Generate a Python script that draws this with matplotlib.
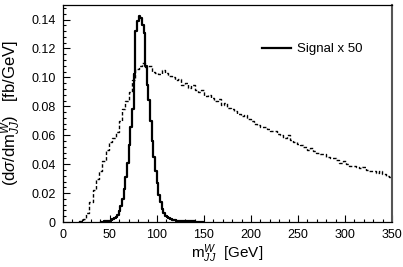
import numpy as np
import matplotlib
matplotlib.use("Agg")
import matplotlib.pyplot as plt
from matplotlib.ticker import MultipleLocator

plt.rcParams['font.family'] = ['Liberation Sans', 'DejaVu Sans']
plt.rcParams['mathtext.fontset'] = 'custom'
plt.rcParams['mathtext.rm'] = 'Liberation Sans'
plt.rcParams['mathtext.it'] = 'Liberation Sans:italic'

# signal (x 50), 1.75 GeV bins starting at 40.25 GeV
sig_start = 40.25
sig_width = 1.75
signal = [0.0002, 0.0003, 0.0004, 0.0006, 0.0008, 0.001, 0.0015, 0.002,
          0.0028, 0.0035, 0.005, 0.0075, 0.011, 0.016, 0.023, 0.031,
          0.041, 0.053, 0.066, 0.078, 0.102, 0.132, 0.139, 0.1425,
          0.141, 0.1365, 0.131, 0.108, 0.095, 0.0845, 0.07, 0.056,
          0.045, 0.035, 0.027, 0.019, 0.0135, 0.009, 0.0063, 0.0045,
          0.0032, 0.0025, 0.002, 0.0017, 0.0014, 0.0012, 0.001, 0.001,
          0.0009, 0.0008, 0.0008, 0.0007, 0.0006, 0.0006, 0.0005, 0.0004,
          0.0004, 0.0003, 0.0002, 0.0002, 0.0001, 0.0]

# background, 3.5 GeV bins starting at 17.5 GeV
bkg_start = 17.5
bkg_width = 3.5
background = [0.0005, 0.002, 0.006, 0.014, 0.022, 0.03, 0.035, 0.042,
              0.05, 0.055, 0.058, 0.062, 0.07, 0.078, 0.084, 0.09,
              0.098, 0.106, 0.108, 0.110, 0.107, 0.108, 0.104, 0.103,
              0.102, 0.105, 0.103, 0.101, 0.100, 0.098, 0.099, 0.095,
              0.096, 0.093, 0.095, 0.091, 0.090, 0.091, 0.087, 0.088,
              0.086, 0.084, 0.085, 0.081, 0.082, 0.079, 0.078, 0.077,
              0.075, 0.073, 0.074, 0.071, 0.070, 0.068, 0.067, 0.066,
              0.066, 0.064, 0.063, 0.063, 0.061, 0.060, 0.058, 0.060,
              0.057, 0.055, 0.054, 0.053, 0.052, 0.050, 0.051, 0.049,
              0.048, 0.047, 0.047, 0.045, 0.044, 0.044, 0.043, 0.041,
              0.042, 0.040, 0.039, 0.039, 0.038, 0.037, 0.038, 0.036,
              0.035, 0.035, 0.034, 0.035, 0.033, 0.032, 0.031]


def step_xy(start, width, vals):
    edges = start + width * np.arange(len(vals) + 1)
    v = np.asarray(vals)
    x = np.repeat(edges, 2)
    y = np.concatenate([[0], np.repeat(v, 2), [0]])
    return x, y


fig = plt.figure(figsize=(4.03, 2.67), dpi=100)
ax = fig.add_axes([0.156, 0.1685, 0.817, 0.8125])

bx, by = step_xy(bkg_start, bkg_width, background)
ax.plot(bx, by, color='black', lw=1.0, ls=(0, (2.5, 1.5)))

sx, sy = step_xy(sig_start, sig_width, signal)
ax.plot(sx, sy, color='black', lw=1.6, label='Signal x 50')

ax.set_xlim(0, 350)
ax.set_ylim(0, 0.15)
ax.xaxis.set_major_locator(MultipleLocator(50))
ax.xaxis.set_minor_locator(MultipleLocator(10))
ax.yaxis.set_major_locator(MultipleLocator(0.02))
ax.yaxis.set_minor_locator(MultipleLocator(0.004))
ax.yaxis.set_major_formatter(plt.FuncFormatter(lambda v, p: '0' if v == 0 else f'{v:.2f}'))

ax.tick_params(which='both', direction='in', top=False, right=False,
               labelsize=9, width=0.8, pad=5)
ax.tick_params(which='major', length=5)
ax.tick_params(which='minor', length=2.5)
for s in ax.spines.values():
    s.set_linewidth(0.9)
ax.spines['right'].set_linewidth(1.5)
ax.spines['right'].set_color('#555555')

ax.set_xlabel(r'm$^{W}_{JJ}$  [GeV]', fontsize=11, labelpad=1)
ax.set_ylabel(r'(d$\sigma$/dm$^{W}_{JJ}$)   [fb/GeV]', fontsize=12, labelpad=6)

ax.legend(loc='upper right', bbox_to_anchor=(0.945, 0.88), frameon=False,
          fontsize=9.5, handlelength=2.2, handletextpad=0.4)

fig.savefig('out.png', dpi=100)
